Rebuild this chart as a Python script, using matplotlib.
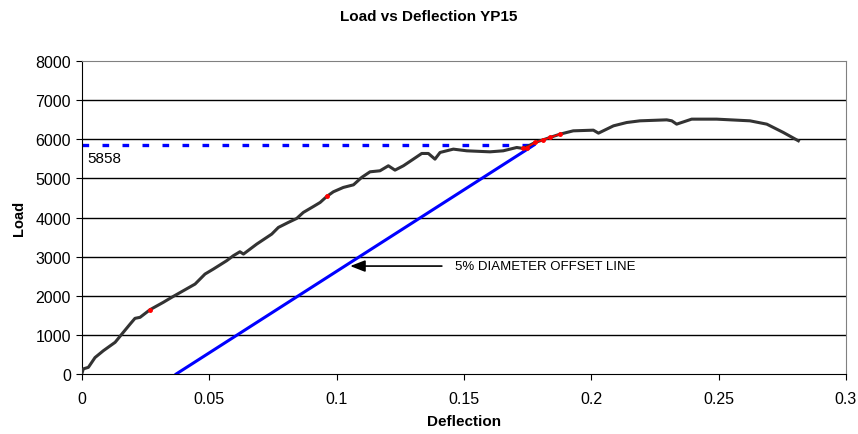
import numpy as np
import matplotlib
matplotlib.use('Agg')
import matplotlib.pyplot as plt

plt.rcParams['font.family'] = ['Liberation Sans', 'DejaVu Sans']

# 载荷-挠度曲线
deflection = [0, 0.0005, 0.0025, 0.0051, 0.0084, 0.013, 0.0162, 0.0189, 0.0208, 0.0228,
              0.0267, 0.0319, 0.0352, 0.0398, 0.0444, 0.0483, 0.0516, 0.0568, 0.0594, 0.062,
              0.0634, 0.0686, 0.0745, 0.0771, 0.081, 0.0843, 0.0869, 0.0909, 0.0935, 0.0961,
              0.0987, 0.1026, 0.1066, 0.1098, 0.1131, 0.117, 0.1203, 0.1229, 0.1262, 0.1301,
              0.1334, 0.136, 0.1386, 0.1406, 0.1458, 0.1511, 0.1602, 0.1654, 0.1707, 0.1733,
              0.1779, 0.1811, 0.1838, 0.1877, 0.1929, 0.2008, 0.2028, 0.2087, 0.2139, 0.2191,
              0.2296, 0.2316, 0.2335, 0.2394, 0.2492, 0.2623, 0.2689, 0.2754, 0.2813]
load = [20, 130, 170, 420, 596, 810, 1065, 1278, 1423, 1449,
        1644, 1832, 1960, 2130, 2300, 2556, 2684, 2897, 3024, 3126,
        3067, 3322, 3578, 3748, 3876, 3978, 4132, 4285, 4387, 4540,
        4660, 4771, 4838, 5027, 5171, 5197, 5325, 5214, 5325, 5495,
        5640, 5640, 5495, 5666, 5751, 5708, 5682, 5708, 5793, 5768,
        5921, 5990, 6050, 6134, 6219, 6236, 6160, 6347, 6432, 6475,
        6500, 6475, 6390, 6518, 6518, 6475, 6390, 6177, 5964]

# 红色数据点
red_x = [0.0267, 0.0961, 0.1733, 0.1746, 0.1779, 0.1811, 0.1838, 0.1877]
red_y = [1644, 4540, 5768, 5790, 5921, 5990, 6050, 6134]

# 5% 直径偏移线
offset_x = [0.037, 0.1775]
offset_y = [0, 5858]
yield_load = 5858

xticks = [0, 0.05, 0.1, 0.15, 0.2, 0.25, 0.3]
xtick_labels = ['0', '0.05', '0.1', '0.15', '0.2', '0.25', '0.3']
yticks = [0, 1000, 2000, 3000, 4000, 5000, 6000, 7000, 8000]

fig = plt.figure(figsize=(8.58, 4.35), dpi=100)
ax = fig.add_axes([0.0956, 0.138, 0.8904, 0.719])

for y in yticks[1:-1]:
    ax.axhline(y, color='black', lw=1, zorder=1)

ax.plot(deflection, load, color='#333333', lw=2.2, zorder=3, solid_joinstyle='round')
ax.plot(red_x[2:], red_y[2:], color='red', lw=1.2, zorder=4)
ax.plot(red_x, red_y, 'o', color='red', ms=2.5, zorder=4)

ax.plot(offset_x, offset_y, color='#0000FF', lw=2.2, zorder=2)
ax.plot([0, offset_x[1]], [yield_load, yield_load], color='#0000FF', lw=2.4,
        dashes=(2.0, 4.0), zorder=2)
ax.text(0.002, 5520, str(yield_load), fontsize=11, va='center', ha='left')

ax.annotate('', xy=(0.1053, 2760), xytext=(0.1413, 2760),
            arrowprops=dict(arrowstyle='-|>,head_length=0.9,head_width=0.35',
                            color='black', lw=1.2, shrinkA=0, shrinkB=0))
ax.text(0.1465, 2760, '5% DIAMETER OFFSET LINE', fontsize=9.5, va='center', ha='left')

ax.set_xlim(0, 0.3)
ax.set_ylim(0, 8000)
ax.set_xticks(xticks)
ax.set_xticklabels(xtick_labels)
ax.set_yticks(yticks)
ax.tick_params(labelsize=11.5, length=4, color='black')
ax.tick_params(axis='x', pad=8)
ax.tick_params(axis='y', pad=4)

ax.spines['left'].set_color('black')
ax.spines['bottom'].set_color('black')
ax.spines['top'].set_color('#808080')
ax.spines['right'].set_color('#808080')

ax.set_xlabel('Deflection', fontsize=11, fontweight='bold', labelpad=6)
ax.set_ylabel('Load', fontsize=10.5, fontweight='bold', labelpad=7)
fig.suptitle('Load vs Deflection YP15', fontsize=11, fontweight='bold', y=0.961, va='center')

fig.savefig('out.png', dpi=100)
